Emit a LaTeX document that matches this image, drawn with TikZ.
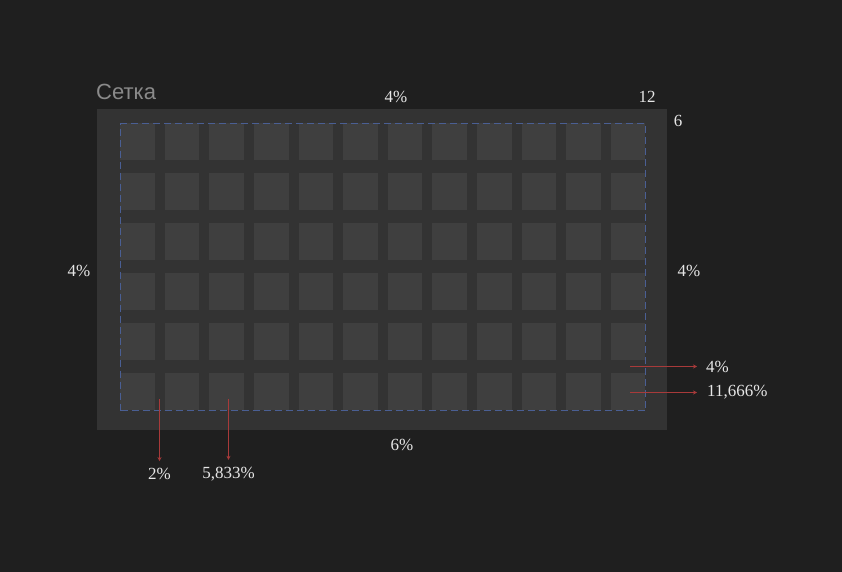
\documentclass[tikz,border=0pt]{standalone}
\usepackage{fontspec}
\setmainfont{Liberation Serif}
\newfontfamily\titlefont{Liberation Sans}
\usetikzlibrary{arrows.meta}
\definecolor{bg}{HTML}{1F1F1F}
\definecolor{panelc}{HTML}{333333}
\definecolor{cellc}{HTML}{3F3F3F}
\definecolor{dashc}{HTML}{4A5F94}
\definecolor{txtc}{HTML}{E6E6E6}
\definecolor{titlec}{HTML}{8A8A8A}
\definecolor{arrc}{HTML}{A83A3A}
\tikzset{
  lbl/.style={text=txtc, font=\fontsize{17}{17}\selectfont, inner sep=0pt},
  cellbox/.style={fill=cellc, draw=none, minimum width=34.5pt, minimum height=37pt, inner sep=0pt, anchor=north west},
  arr/.style={draw=arrc, line width=1pt, -{Stealth[length=4pt,width=4pt]}},
}
\begin{document}
\begin{tikzpicture}[x=1pt,y=-1pt]
\fill[bg] (0,0) rectangle (842,572);
\useasboundingbox (0,0) rectangle (842,572);
\node[fill=panelc, minimum width=570pt, minimum height=321pt, inner sep=0pt, anchor=north west] (panel) at (97,109) {};
\foreach \r in {0,...,5} {
  \foreach \c in {0,...,11} {
    \node[cellbox] (cell-\r-\c) at ({120+\c*44.6},{123+\r*50}) {};
  }
}
\node[draw=dashc, dash pattern=on 7pt off 4pt, line width=1.2pt, minimum width=525pt, minimum height=287pt, inner sep=0pt, anchor=north west] (inner) at (120,123) {};
\node[text=titlec, font=\titlefont\fontsize{22}{22}\selectfont, anchor=base west, inner sep=0pt] (title) at (96,100) {Сетка};
\node[lbl] (ltop) at (396,97) {4\%};
\node[lbl] (lcols) at (647,97) {12};
\node[lbl] (lrows) at (678,121) {6};
\node[lbl] (lleft) at (79,271) {4\%};
\node[lbl] (lright) at (689,271) {4\%};
\node[lbl] (lbot) at (402,445) {6\%};
\node[lbl, anchor=west] (lgapv) at (706,367) {4\%};
\node[lbl, anchor=west] (lcellh) at (707,392) {11,666\%};
\node[lbl] (lgaph) at (159.5,474) {2\%};
\node[lbl] (lcellw) at (228.5,474) {5,833\%};
\coordinate (sgapv) at (630,366.5);
\coordinate (scellh) at (630,392.5);
\coordinate (sgaph) at (159.5,399);
\coordinate (scellw) at (228.5,399);
\draw[arr, shorten >=9pt] (sgapv) -- (sgapv -| lgapv.west);
\draw[arr, shorten >=10pt] (scellh) -- (scellh -| lcellh.west);
\draw[arr, shorten >=7pt] (sgaph) -- (lgaph.north);
\draw[arr, shorten >=7pt] (scellw) -- (lcellw.north);
\end{tikzpicture}
\end{document}
